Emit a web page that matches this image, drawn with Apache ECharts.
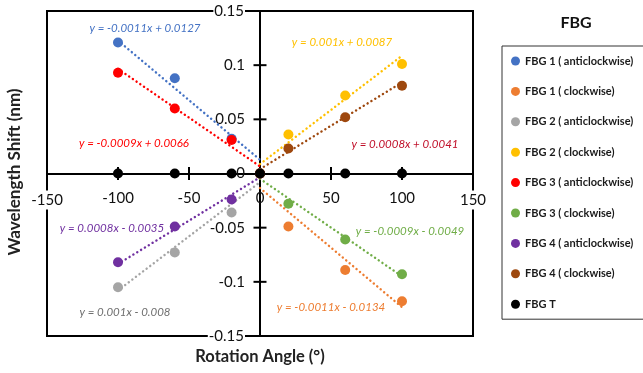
<!DOCTYPE html>
<html>
<head>
<meta charset="utf-8">
<script src="https://cdn.jsdelivr.net/npm/echarts@6/dist/echarts.min.js"></script>
<style>
  html, body { margin: 0; padding: 0; background: #fff; }
  #chart { width: 643px; height: 373px; }
</style>
</head>
<body>
<div id="chart"></div>
<script>
// Rotation angles (degrees) for each measurement direction
const anglesAnti = [-100, -60, -20, 0];
const anglesClock = [0, 20, 60, 100];
const anglesAll = [-100, -60, -20, 0, 20, 60, 100];

// Wavelength shift (nm)
const fbg1Anti = [0.121, 0.088, 0.032, 0];
const fbg1Clock = [0, -0.049, -0.089, -0.118];
const fbg2Anti = [-0.105, -0.073, -0.036, 0];
const fbg2Clock = [0, 0.036, 0.072, 0.101];
const fbg3Anti = [0.093, 0.060, 0.031, 0];
const fbg3Clock = [0, -0.028, -0.061, -0.093];
const fbg4Anti = [-0.082, -0.049, -0.024, 0];
const fbg4Clock = [0, 0.023, 0.052, 0.081];
const fbgT = [0, 0, 0, 0, 0, 0, 0];

const seriesNames = [
  'FBG 1 ( anticlockwise)', 'FBG 1 ( clockwise)',
  'FBG 2 ( anticlockwise)', 'FBG 2 ( clockwise)',
  'FBG 3 ( anticlockwise)', 'FBG 3 ( clockwise)',
  'FBG 4 ( anticlockwise)', 'FBG 4 ( clockwise)',
  'FBG T'
];
const seriesValues = [fbg1Anti, fbg1Clock, fbg2Anti, fbg2Clock, fbg3Anti, fbg3Clock, fbg4Anti, fbg4Clock, fbgT];
const seriesAngles = [anglesAnti, anglesClock, anglesAnti, anglesClock, anglesAnti, anglesClock, anglesAnti, anglesClock, anglesAll];
const colors = ['#4472C4', '#ED7D31', '#A5A5A5', '#FFC000', '#FF0000', '#70AD47', '#7030A0', '#9E480E', '#000000'];

// Linear trendlines (slope, intercept) for the eight rotating series
const slopes = [-0.0011, -0.0011, 0.001, 0.001, -0.0009, -0.0009, 0.0008, 0.0008];
const intercepts = [0.0127, -0.0134, -0.008, 0.0087, 0.0066, -0.0049, -0.0035, 0.0041];
const equations = [
  'y = -0.0011x + 0.0127', 'y = -0.0011x - 0.0134',
  'y = 0.001x - 0.008', 'y = 0.001x + 0.0087',
  'y = -0.0009x + 0.0066', 'y = -0.0009x - 0.0049',
  'y = 0.0008x - 0.0035', 'y = 0.0008x + 0.0041'
];
const equationColors = ['#4472C4', '#ED7D31', '#6F6F6F', '#FFC000', '#FF0000', '#70AD47', '#7030A0', '#C0102A'];
// pixel centres of the equation labels
const equationPos = [[145, 28], [331, 307], [125, 312], [342, 42], [134, 143], [410, 231], [112, 228], [405, 144]];

// Axis ticks
const xTicks = [-150, -100, -50, 0, 50, 100, 150];
const yTicks = [-0.15, -0.1, -0.05, 0, 0.05, 0.1, 0.15];

const chart = echarts.init(document.getElementById('chart'), null, { renderer: 'canvas' });
const FONT = 'Lato, "Open Sans", sans-serif';

// plot area
const GRID = { left: 47, top: 11, width: 426, height: 325 };

const series = [];

// trendlines
slopes.forEach((m, i) => {
  const xs = seriesAngles[i];
  const x0 = xs[0], x1 = xs[xs.length - 1];
  series.push({
    type: 'line',
    name: 'trend' + i,
    data: [[x0, m * x0 + intercepts[i]], [x1, m * x1 + intercepts[i]]],
    showSymbol: false,
    symbol: 'none',
    silent: true,
    lineStyle: { color: colors[i], width: 2.4, type: [0.1, 4.4], cap: 'round', opacity: 1 },
    z: 2
  });
});

// crossing tick marks on the axes through the origin
series.push({
  type: 'scatter',
  name: 'xticks',
  silent: true,
  symbol: 'rect',
  symbolSize: [2, 13],
  itemStyle: { color: '#000', opacity: 1 },
  data: xTicks.filter(v => Math.abs(v) !== 150 && v !== 0).map(v => [v, 0]),
  z: 3
});
series.push({
  type: 'scatter',
  name: 'yticks',
  silent: true,
  symbol: 'rect',
  symbolSize: [13, 2],
  itemStyle: { color: '#000', opacity: 1 },
  data: yTicks.filter(v => Math.abs(v) < 0.14 && v !== 0).map(v => [0, v]),
  z: 3
});

// measured points
seriesNames.forEach((name, i) => {
  series.push({
    type: 'scatter',
    name: name,
    symbol: 'circle',
    symbolSize: 10,
    itemStyle: { color: colors[i], opacity: 1 },
    data: seriesAngles[i].map((a, k) => [a, seriesValues[i][k]]),
    z: 4
  });
});

function fmtY(v) {
  const r = Math.round(v * 100) / 100;
  return String(r);
}

const gfx = [];
equations.forEach((t, i) => {
  gfx.push({
    type: 'text',
    x: equationPos[i][0], y: equationPos[i][1],
    style: {
      text: t, fill: equationColors[i],
      font: 'italic 11.5px ' + FONT,
      textAlign: 'center', textVerticalAlign: 'middle'
    },
    z: 10
  });
});
gfx.push({
  type: 'text', x: 576, y: 23,
  style: { text: 'FBG', fill: '#111', font: 'bold 16px ' + FONT, textAlign: 'center', textVerticalAlign: 'middle' }
});
gfx.push({
  type: 'text', x: 260, y: 357,
  style: { text: 'Rotation Angle (°)', fill: '#222', font: 'bold 16.5px ' + FONT, textAlign: 'center', textVerticalAlign: 'middle' }
});
gfx.push({
  type: 'text', x: 15, y: 172, rotation: Math.PI / 2,
  style: { text: 'Wavelength Shift (nm)', fill: '#222', font: 'bold 17px ' + FONT, textAlign: 'center', textVerticalAlign: 'middle' }
});

chart.setOption({
  animation: false,
  backgroundColor: '#fff',
  grid: Object.assign({ show: true, borderColor: '#000', borderWidth: 2, backgroundColor: 'transparent' }, GRID),
  legend: {
    data: seriesNames,
    orient: 'vertical',
    left: 502, top: 46,
    padding: [8, 30, 8, 9],
    itemGap: 16.4,
    itemWidth: 9, itemHeight: 9,
    icon: 'circle',
    borderColor: '#333', borderWidth: 1,
    textStyle: { fontFamily: FONT, fontWeight: 'bold', fontSize: 11, color: '#1a1a1a', lineHeight: 14 }
  },
  xAxis: {
    type: 'value', min: -150, max: 150, interval: 50,
    position: 'bottom',
    // the horizontal axis runs through y = 0, half-way up the plot
    offset: -GRID.height / 2,
    axisLine: { onZero: false, lineStyle: { color: '#000', width: 2 } },
    axisTick: { show: false },
    splitLine: { show: false },
    axisLabel: {
      margin: 17,
      formatter: v => Math.abs(v) === 150 ? '{e|' + v + '}' : '{n|' + v + '}',
      rich: {
        e: { fontFamily: FONT, fontSize: 15, color: '#111', backgroundColor: '#fff', padding: [2, 1] },
        n: { fontFamily: FONT, fontSize: 15, color: '#111' }
      }
    }
  },
  yAxis: {
    type: 'value', min: -0.15, max: 0.15, interval: 0.05,
    position: 'left',
    // the vertical axis runs through x = 0, half-way across the plot
    offset: -GRID.width / 2,
    axisLine: { onZero: false, lineStyle: { color: '#000', width: 2 } },
    axisTick: { show: false },
    splitLine: { show: false },
    axisLabel: {
      margin: 15,
      formatter: v => {
        const s = fmtY(v);
        return Math.abs(v) > 0.14 ? '{e|' + s + '}' : '{n|' + s + '}';
      },
      rich: {
        e: { fontFamily: FONT, fontSize: 15, color: '#111', backgroundColor: '#fff', padding: [0, 1] },
        n: { fontFamily: FONT, fontSize: 15, color: '#111' }
      }
    }
  },
  series: series,
  graphic: gfx
});
</script>
</body>
</html>
